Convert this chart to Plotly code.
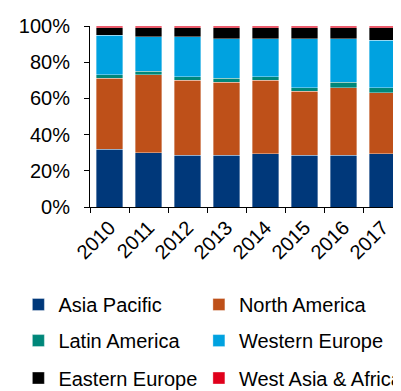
import plotly.graph_objects as go

years = ["2010", "2011", "2012", "2013", "2014", "2015", "2016", "2017"]
asia_pacific = [32, 30, 28.5, 28.5, 29.5, 28.5, 28.5, 29.5]
north_america = [39, 43, 41.5, 40.5, 40.5, 35.5, 37.5, 33.5]
latin_america = [2, 2, 2, 2, 2, 2, 3, 3]
western_europe = [22, 19, 22, 22, 21, 27, 24, 26]
eastern_europe = [4, 5, 5, 6, 6, 6, 6, 7]
west_asia_africa = [1, 1, 1, 1, 1, 1, 1, 1]

series = [
    ("Asia Pacific", asia_pacific, "#00387A"),
    ("North America", north_america, "#BE5019"),
    ("Latin America", latin_america, "#00877A"),
    ("Western Europe", western_europe, "#00A2E0"),
    ("Eastern Europe", eastern_europe, "#000000"),
    ("West Asia & Africa", west_asia_africa, "#E0001B"),
]

FONT = "Liberation Sans, Arial, sans-serif"
fs = 20

top, bottom = 18, 205
ph = bottom - top
pw = 318
def ypos(yc):
    return (bottom - yc) / ph
def xpos(px):
    return (px - 82) / pw

row_y = [305.7, 343, 381.7]
col_x = [9, 193]

fig = go.Figure()
layout_legends = {}
for i, (name, vals, color) in enumerate(series):
    key = "legend" if i == 0 else f"legend{i + 1}"
    fig.add_trace(go.Bar(
        x=years, y=vals, name=name, legend=key, showlegend=True,
        marker=dict(color=color, line=dict(color="rgba(255,255,255,0.6)", width=0.6)),
    ))
    layout_legends[key] = dict(
        x=xpos(col_x[i % 2]), y=ypos(row_y[i // 2]),
        orientation="h", xanchor="left", yanchor="middle",
        bgcolor="rgba(0,0,0,0)", borderwidth=0,
        font=dict(family=FONT, size=fs, color="#000"),
    )

fig.update_layout(
    width=401, height=391,
    showlegend=True,
    margin=dict(l=82, r=1, t=top, b=391 - bottom),
    paper_bgcolor="white", plot_bgcolor="white",
    barmode="stack", bargap=0.32,
    font=dict(family=FONT, size=fs, color="#000"),
    xaxis=dict(showline=True, linecolor="#000", linewidth=1, ticks="outside",
               tickson="boundaries", ticklen=5, tickcolor="#000", tickangle=-45,
               showgrid=False, tickfont=dict(family=FONT, size=fs)),
    yaxis=dict(range=[0, 100], dtick=20, ticksuffix="%", showline=True, linecolor="#000",
               linewidth=1, ticks="outside", ticklen=5, tickcolor="#000", showgrid=False,
               zeroline=False, ticklabelstandoff=10, tickfont=dict(family=FONT, size=fs)),
    **layout_legends,
)

fig.write_html("out.html")
